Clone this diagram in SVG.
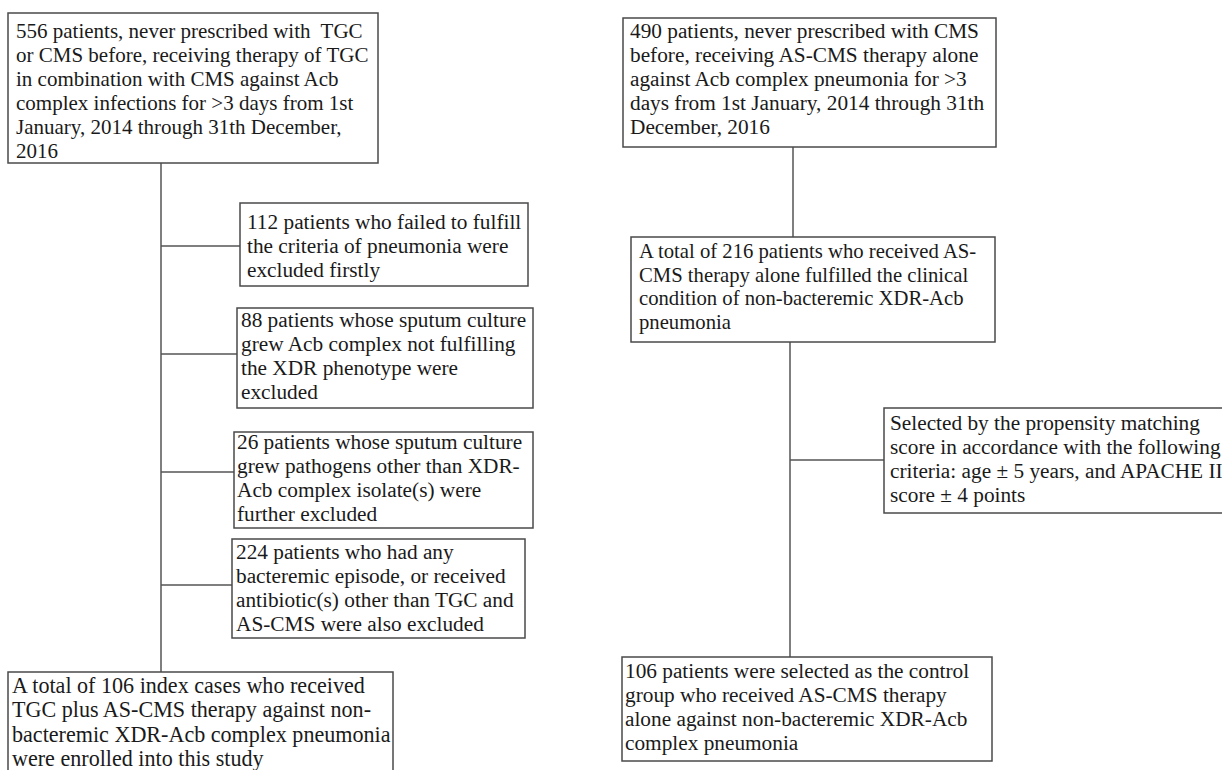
<svg xmlns="http://www.w3.org/2000/svg" width="1222" height="770" viewBox="0 0 1222 770">
<style>
.box{fill:#fff;stroke:#4a4a4a;stroke-width:1.5}
.t{font-family:"Liberation Serif","Times New Roman",serif;font-size:21.3px;fill:#1a1a1a}
.c{stroke:#555;stroke-width:1.5;fill:none}
</style>
<rect width="1222" height="770" fill="#fff"/>
<g id="connectors">
<line class="c" x1="161" y1="163" x2="161" y2="672"/>
<line class="c" x1="161" y1="246" x2="240" y2="246"/>
<line class="c" x1="161" y1="354" x2="237" y2="354"/>
<line class="c" x1="161" y1="472" x2="234" y2="472"/>
<line class="c" x1="161" y1="585" x2="232" y2="585"/>
<line class="c" x1="793" y1="147" x2="793" y2="237"/>
<line class="c" x1="790" y1="342" x2="790" y2="657"/>
<line class="c" x1="790" y1="460" x2="884" y2="460"/>
</g>
<g id="start-left">
<rect class="box" x="8" y="13" width="370" height="150"/>
<text class="t" style="font-size:21px" xml:space="preserve"><tspan x="16" y="38">556 patients, never prescribed with  TGC</tspan><tspan x="16" y="62">or CMS before, receiving therapy of TGC</tspan><tspan x="16" y="86">in combination with CMS against Acb</tspan><tspan x="16" y="110">complex infections for &gt;3 days from 1st</tspan><tspan x="16" y="134">January, 2014 through 31th December,</tspan><tspan x="16" y="158">2016</tspan></text>
</g>
<g id="excl-1">
<rect class="box" x="240" y="203" width="288" height="83"/>
<text class="t"><tspan x="247" y="229">112 patients who failed to fulfill</tspan><tspan x="247" y="253">the criteria of pneumonia were</tspan><tspan x="247" y="277">excluded firstly</tspan></text>
</g>
<g id="excl-2">
<rect class="box" x="237" y="308" width="296" height="100"/>
<text class="t"><tspan x="241" y="327">88 patients whose sputum culture</tspan><tspan x="241" y="351">grew Acb complex not fulfilling</tspan><tspan x="241" y="375">the XDR phenotype were</tspan><tspan x="241" y="399">excluded</tspan></text>
</g>
<g id="excl-3">
<rect class="box" x="234" y="432" width="299" height="96"/>
<text class="t"><tspan x="237" y="449">26 patients whose sputum culture</tspan><tspan x="237" y="473">grew pathogens other than XDR-</tspan><tspan x="237" y="497">Acb complex isolate(s) were</tspan><tspan x="237" y="521">further excluded</tspan></text>
</g>
<g id="excl-4">
<rect class="box" x="232" y="539" width="293" height="99"/>
<text class="t"><tspan x="236" y="559">224 patients who had any</tspan><tspan x="236" y="583">bacteremic episode, or received</tspan><tspan x="236" y="607">antibiotic(s) other than TGC and</tspan><tspan x="236" y="631">AS-CMS were also excluded</tspan></text>
</g>
<g id="enrolled-left">
<rect class="box" x="8" y="672" width="385" height="120"/>
<text class="t" style="font-size:22.1px"><tspan x="12" y="693">A total of 106 index cases who received</tspan><tspan x="12" y="717">TGC plus AS-CMS therapy against non-</tspan><tspan x="12" y="742">bacteremic XDR-Acb complex pneumonia</tspan><tspan x="12" y="766">were enrolled into this study</tspan></text>
</g>
<g id="start-right">
<rect class="box" x="623" y="18" width="373" height="129"/>
<text class="t"><tspan x="630" y="38">490 patients, never prescribed with CMS</tspan><tspan x="630" y="62">before, receiving AS-CMS therapy alone</tspan><tspan x="630" y="86">against Acb complex pneumonia for &gt;3</tspan><tspan x="630" y="110">days from 1st January, 2014 through 31th</tspan><tspan x="630" y="134">December, 2016</tspan></text>
</g>
<g id="fulfilled-right">
<rect class="box" x="631" y="237" width="364" height="105"/>
<text class="t" style="font-size:20.7px"><tspan x="639" y="258">A total of 216 patients who received AS-</tspan><tspan x="639" y="281.5">CMS therapy alone fulfilled the clinical</tspan><tspan x="639" y="305">condition of non-bacteremic XDR-Acb</tspan><tspan x="639" y="328.5">pneumonia</tspan></text>
</g>
<g id="matching">
<rect class="box" x="884" y="408" width="345" height="105"/>
<text class="t"><tspan x="890" y="430">Selected by the propensity matching</tspan><tspan x="890" y="454">score in accordance with the following</tspan><tspan x="890" y="478">criteria: age ± 5 years, and APACHE II</tspan><tspan x="890" y="502">score ± 4 points</tspan></text>
</g>
<g id="control-right">
<rect class="box" x="622" y="657" width="370" height="104"/>
<text class="t"><tspan x="625" y="678">106 patients were selected as the control</tspan><tspan x="625" y="702">group who received AS-CMS therapy</tspan><tspan x="625" y="726">alone against non-bacteremic XDR-Acb</tspan><tspan x="625" y="750">complex pneumonia</tspan></text>
</g>
</svg>
